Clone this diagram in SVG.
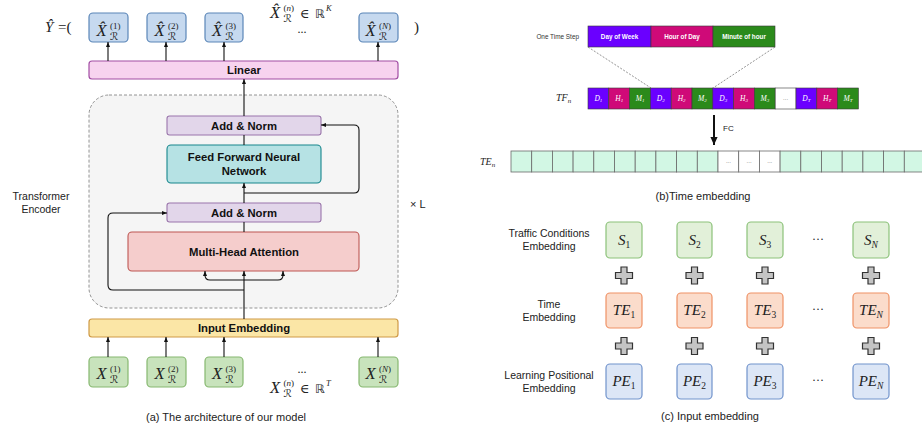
<svg xmlns="http://www.w3.org/2000/svg" width="922" height="433" viewBox="0 0 922 433">
<style>
.lbl{font-family:"Liberation Sans",Arial,sans-serif;font-weight:bold;font-size:11.3px;fill:#111;text-anchor:middle}
.cap{font-family:"Liberation Sans",Arial,sans-serif;font-size:11px;fill:#222;text-anchor:middle}
.side{font-family:"Liberation Sans",Arial,sans-serif;font-size:10.5px;fill:#222;text-anchor:middle}
.m{font-family:"Liberation Serif","DejaVu Serif",serif;font-style:italic;fill:#222}
.mu{font-family:"Liberation Serif","DejaVu Serif",serif;font-style:normal;fill:#222}
.r{font-family:"DejaVu Sans","Noto Sans",sans-serif;font-style:italic;fill:#222}
.xo{fill:#c6d9ef;stroke:#5b86b8;stroke-width:1.2}
.xi{fill:#c8e3bc;stroke:#86b870;stroke-width:1.2}
.ln{fill:none;stroke:#111;stroke-width:1.1}
.seg{font-family:"Liberation Sans",Arial,sans-serif;font-weight:bold;font-size:6.3px;fill:#fff;text-anchor:middle}
.cl{font-family:"Liberation Serif","DejaVu Serif",serif;font-style:italic;font-size:7.5px;fill:#fff;text-anchor:middle}
.pur{fill:#6a00ff;stroke:#3a3a3a;stroke-width:0.6}
.pin{fill:#cf0a78;stroke:#3a3a3a;stroke-width:0.6}
.grn{fill:#2b8a1b;stroke:#3a3a3a;stroke-width:0.6}
.te{fill:#d2f7e4;stroke:#6a6a6a;stroke-width:0.8}
.tw{fill:#fff;stroke:#6a6a6a;stroke-width:0.8}
.dots{font-family:"Liberation Sans",Arial,sans-serif;font-size:6px;fill:#666;text-anchor:middle}
.sb{fill:#e2f0d9;stroke:#8cc27a;stroke-width:1.2}
.tb{fill:#fbdccb;stroke:#ef9266;stroke-width:1.2}
.pb{fill:#dce6f6;stroke:#7193cc;stroke-width:1.2}
.cm{font-family:"Liberation Serif","DejaVu Serif",serif;font-style:italic;font-size:15px;fill:#222;text-anchor:middle}
.plus{fill:#c4c4c4;stroke:#333;stroke-width:1.2}
</style>
<defs>
<marker id="ah" viewBox="0 0 10 10" refX="10" refY="5" markerWidth="5" markerHeight="5" markerUnits="userSpaceOnUse" orient="auto"><path d="M0,1 L10,5 L0,9 z" fill="#111"/></marker>
<marker id="ahb" viewBox="0 0 10 10" refX="10" refY="5" markerWidth="8" markerHeight="8" markerUnits="userSpaceOnUse" orient="auto"><path d="M0,0.5 L10,5 L0,9.5 z" fill="#111"/></marker>
<path id="plus" d="M-3,-8.5 H3 V-3 H8.5 V3 H3 V8.5 H-3 V3 H-8.5 V-3 H-3 Z"/>
</defs>

<!-- ========== (a) ========== -->
<g id="encoder">
<rect x="89" y="95" width="309" height="213" rx="20" fill="#f5f5f5" stroke="#888" stroke-width="0.9" stroke-dasharray="3,2"/>
<text class="side" x="41" y="200" font-size="11.3">Transformer</text>
<text class="side" x="41" y="213" font-size="11.3">Encoder</text>
<text x="410" y="208" font-family="Liberation Sans,Arial,sans-serif" font-size="11" fill="#222">× L</text>
</g>

<g id="yhat">
<text class="m" x="45" y="32" font-size="15">Ŷ</text>
<text class="mu" x="58" y="32" font-size="15">=(</text>
<text class="mu" x="414" y="32" font-size="15">)</text>
</g>

<g id="out1"><rect class="xo" x="89" y="13" width="39" height="29" rx="4"/>
<text class="m" x="96.5" y="36" font-size="16.5">X̂</text><text class="mu" x="110" y="29" font-size="9">(1)</text><text class="r" x="110" y="39.5" font-size="10.5">ℛ</text></g>
<g id="out2"><rect class="xo" x="147" y="13" width="39" height="29" rx="4"/>
<text class="m" x="154.5" y="36" font-size="16.5">X̂</text><text class="mu" x="168" y="29" font-size="9">(2)</text><text class="r" x="168" y="39.5" font-size="10.5">ℛ</text></g>
<g id="out3"><rect class="xo" x="205" y="13" width="38" height="29" rx="4"/>
<text class="m" x="212" y="36" font-size="16.5">X̂</text><text class="mu" x="225.5" y="29" font-size="9">(3)</text><text class="r" x="225.5" y="39.5" font-size="10.5">ℛ</text></g>
<g id="outN"><rect class="xo" x="359" y="13" width="39" height="29" rx="4"/>
<text class="m" x="365.5" y="36" font-size="16.5">X̂</text><text class="m" x="379" y="29" font-size="9"><tspan class="mu">(</tspan>N<tspan class="mu">)</tspan></text><text class="r" x="379" y="39.5" font-size="10.5">ℛ</text></g>
<g id="outdef">
<text class="m" x="270" y="18" font-size="16.5">X̂</text><text class="mu" x="283.5" y="11" font-size="9">(<tspan class="m">n</tspan>)</text><text class="r" x="283.5" y="21.5" font-size="10.5">ℛ</text>
<text class="mu" x="300" y="18" font-size="13">∈</text><text x="315" y="18" font-family="DejaVu Sans,sans-serif" font-size="12" fill="#222">ℝ</text><text class="m" x="326" y="11" font-size="8.5">K</text>
<text class="mu" x="302" y="33" font-size="12" text-anchor="middle">...</text>
</g>

<g id="linear"><rect x="89" y="61" width="309" height="18" rx="3" fill="#f7d3ef" stroke="#a24ea4" stroke-width="1.2"/>
<text class="lbl" x="244" y="74">Linear</text></g>

<g id="addnorm2"><rect x="167" y="116" width="154" height="19" rx="2.5" fill="#e2d6ea" stroke="#9a75ab" stroke-width="1.1"/>
<text class="lbl" x="244" y="129.5">Add &amp; Norm</text></g>
<g id="ffn"><rect x="167" y="145" width="154" height="38" rx="4" fill="#b6e2e4" stroke="#16868c" stroke-width="1.1"/>
<text class="lbl" x="244" y="161">Feed Forward Neural</text><text class="lbl" x="244" y="175">Network</text></g>
<g id="addnorm1"><rect x="167" y="203" width="154" height="19" rx="2.5" fill="#e2d6ea" stroke="#9a75ab" stroke-width="1.1"/>
<text class="lbl" x="244" y="216.5">Add &amp; Norm</text></g>
<g id="mha"><rect x="128" y="232" width="231" height="39" rx="4" fill="#f5cdcc" stroke="#bd5753" stroke-width="1.1"/>
<text class="lbl" x="244" y="256" font-size="11.6">Multi-Head Attention</text></g>

<g id="inputemb"><rect x="89" y="319" width="309" height="18" rx="3" fill="#fbe6a6" stroke="#cf9a46" stroke-width="1.2"/>
<text class="lbl" x="244" y="332">Input Embedding</text></g>

<g id="in1"><rect class="xi" x="89" y="357" width="39" height="30" rx="4"/>
<text class="m" x="96.5" y="379" font-size="16.5">X</text><text class="mu" x="110" y="372" font-size="9">(1)</text><text class="r" x="110" y="382.5" font-size="10.5">ℛ</text></g>
<g id="in2"><rect class="xi" x="147" y="357" width="39" height="30" rx="4"/>
<text class="m" x="154.5" y="379" font-size="16.5">X</text><text class="mu" x="168" y="372" font-size="9">(2)</text><text class="r" x="168" y="382.5" font-size="10.5">ℛ</text></g>
<g id="in3"><rect class="xi" x="205" y="357" width="38" height="30" rx="4"/>
<text class="m" x="212" y="379" font-size="16.5">X</text><text class="mu" x="225.5" y="372" font-size="9">(3)</text><text class="r" x="225.5" y="382.5" font-size="10.5">ℛ</text></g>
<g id="inN"><rect class="xi" x="359" y="357" width="39" height="30" rx="4"/>
<text class="m" x="365.5" y="379" font-size="16.5">X</text><text class="m" x="379" y="372" font-size="9"><tspan class="mu">(</tspan>N<tspan class="mu">)</tspan></text><text class="r" x="379" y="382.5" font-size="10.5">ℛ</text></g>
<g id="indef">
<text class="mu" x="302" y="373" font-size="12" text-anchor="middle">...</text>
<text class="m" x="270" y="393" font-size="16.5">X</text><text class="mu" x="283.5" y="386" font-size="9">(<tspan class="m">n</tspan>)</text><text class="r" x="283.5" y="396.5" font-size="10.5">ℛ</text>
<text class="mu" x="300" y="393" font-size="13">∈</text><text x="315" y="393" font-family="DejaVu Sans,sans-serif" font-size="12" fill="#222">ℝ</text><text class="m" x="326" y="386" font-size="8.5">T</text>
</g>
<text class="cap" x="226" y="421" font-size="11.2">(a) The architecture of our model</text>

<g id="connectors-a">
<path class="ln" d="M108,61 V42" marker-end="url(#ah)"/>
<path class="ln" d="M166,61 V42" marker-end="url(#ah)"/>
<path class="ln" d="M224,61 V42" marker-end="url(#ah)"/>
<path class="ln" d="M378,61 V42" marker-end="url(#ah)"/>
<path class="ln" d="M108,357 V337" marker-end="url(#ah)"/>
<path class="ln" d="M166,357 V337" marker-end="url(#ah)"/>
<path class="ln" d="M224,357 V337" marker-end="url(#ah)"/>
<path class="ln" d="M378,357 V337" marker-end="url(#ah)"/>
<path class="ln" d="M244,116 V79" marker-end="url(#ah)"/>
<path class="ln" d="M244,145 V135"/>
<path class="ln" d="M244,203 V183" marker-end="url(#ah)"/>
<path class="ln" d="M244,232 V222"/>
<path class="ln" d="M244,319 V271" marker-end="url(#ah)"/>
<path class="ln" d="M244,280 H210 Q205,280 205,275 V271" marker-end="url(#ah)"/>
<path class="ln" d="M244,280 H278 Q283,280 283,275 V271" marker-end="url(#ah)"/>
<path class="ln" d="M244,290 H113 Q108,290 108,285 V218 Q108,213 113,213 H167" marker-end="url(#ah)"/>
<path class="ln" d="M244,193 H354 Q359,193 359,188 V130 Q359,125 354,125 H321" marker-end="url(#ah)"/>
</g>

<!-- ========== (b) ========== -->
<g id="onestep">
<text x="579" y="39" font-family="Liberation Sans,Arial,sans-serif" font-size="6.4" fill="#333" text-anchor="end">One Time Step</text>
<rect class="pur" x="588" y="26" width="63" height="21"/>
<rect class="pin" x="651" y="26" width="62" height="21"/>
<rect class="grn" x="713" y="26" width="62" height="21"/>
<text class="seg" x="619.5" y="38.5">Day of Week</text>
<text class="seg" x="682" y="38.5">Hour of Day</text>
<text class="seg" x="744" y="38.5">Minute of hour</text>
</g>
<g id="tfn">
<text class="m" x="556" y="101" font-size="10">TF<tspan dy="2" font-size="7">n</tspan></text>
<rect class="pur" x="588" y="88" width="20.8" height="21"/>
<rect class="pin" x="608.8" y="88" width="20.8" height="21"/>
<rect class="grn" x="629.6" y="88" width="20.8" height="21"/>
<rect class="pur" x="650.4" y="88" width="20.8" height="21"/>
<rect class="pin" x="671.2" y="88" width="20.8" height="21"/>
<rect class="grn" x="692" y="88" width="20.8" height="21"/>
<rect class="pur" x="712.8" y="88" width="20.8" height="21"/>
<rect class="pin" x="733.6" y="88" width="20.8" height="21"/>
<rect class="grn" x="754.4" y="88" width="20.8" height="21"/>
<rect x="775.2" y="88" width="20.8" height="21" fill="#fff" stroke="#3a3a3a" stroke-width="0.6"/>
<rect class="pur" x="796" y="88" width="20.8" height="21"/>
<rect class="pin" x="816.8" y="88" width="20.8" height="21"/>
<rect class="grn" x="837.6" y="88" width="20.8" height="21"/>
<text class="cl" x="598.4" y="100.5">D<tspan dy="1.5" font-size="5">1</tspan></text>
<text class="cl" x="619.2" y="100.5">H<tspan dy="1.5" font-size="5">1</tspan></text>
<text class="cl" x="640" y="100.5">M<tspan dy="1.5" font-size="5">1</tspan></text>
<text class="cl" x="660.8" y="100.5">D<tspan dy="1.5" font-size="5">2</tspan></text>
<text class="cl" x="681.6" y="100.5">H<tspan dy="1.5" font-size="5">2</tspan></text>
<text class="cl" x="702.4" y="100.5">M<tspan dy="1.5" font-size="5">2</tspan></text>
<text class="cl" x="723.2" y="100.5">D<tspan dy="1.5" font-size="5">3</tspan></text>
<text class="cl" x="744" y="100.5">H<tspan dy="1.5" font-size="5">3</tspan></text>
<text class="cl" x="764.8" y="100.5">M<tspan dy="1.5" font-size="5">3</tspan></text>
<text class="dots" x="785.6" y="100">...</text>
<text class="cl" x="806.4" y="100.5">D<tspan dy="1.5" font-size="5">T</tspan></text>
<text class="cl" x="827.2" y="100.5">H<tspan dy="1.5" font-size="5">T</tspan></text>
<text class="cl" x="848" y="100.5">M<tspan dy="1.5" font-size="5">T</tspan></text>
</g>
<g id="ten">
<text class="m" x="480" y="165" font-size="10">TE<tspan dy="2" font-size="7">n</tspan></text>
<rect class="te" x="511" y="151" width="20.7" height="21"/>
<rect class="te" x="531.7" y="151" width="20.7" height="21"/>
<rect class="te" x="552.4" y="151" width="20.7" height="21"/>
<rect class="te" x="573.1" y="151" width="20.7" height="21"/>
<rect class="te" x="593.8" y="151" width="20.7" height="21"/>
<rect class="te" x="614.5" y="151" width="20.7" height="21"/>
<rect class="te" x="635.2" y="151" width="20.7" height="21"/>
<rect class="te" x="655.9" y="151" width="20.7" height="21"/>
<rect class="te" x="676.6" y="151" width="20.7" height="21"/>
<rect class="te" x="697.3" y="151" width="20.7" height="21"/>
<rect class="tw" x="718" y="151" width="20.7" height="21"/>
<rect class="tw" x="738.7" y="151" width="20.7" height="21"/>
<rect class="tw" x="759.4" y="151" width="20.7" height="21"/>
<rect class="te" x="780.1" y="151" width="20.7" height="21"/>
<rect class="te" x="800.8" y="151" width="20.7" height="21"/>
<rect class="te" x="821.5" y="151" width="20.7" height="21"/>
<rect class="te" x="842.2" y="151" width="20.7" height="21"/>
<rect class="te" x="862.9" y="151" width="20.7" height="21"/>
<rect class="te" x="883.6" y="151" width="20.7" height="21"/>
<rect class="te" x="904.3" y="151" width="20.7" height="21"/>
<text class="dots" x="728.4" y="163">...</text>
<text class="dots" x="749.1" y="163">...</text>
<text class="dots" x="769.8" y="163">...</text>
</g>
<g id="connectors-b">
<path d="M588,47 L651,88 M775,47 L713,88" stroke="#666" stroke-width="0.7" stroke-dasharray="2,1.5" fill="none"/>
<path d="M714,115 V145" stroke="#111" stroke-width="2" fill="none" marker-end="url(#ahb)"/>
</g>
<text x="723" y="131" font-family="Liberation Sans,Arial,sans-serif" font-size="8" fill="#222">FC</text>
<text class="cap" x="703" y="200" font-size="10.6">(b)Time embedding</text>

<!-- ========== (c) ========== -->
<g id="rowlabels">
<text class="side" x="549" y="237">Traffic Conditions</text>
<text class="side" x="549" y="250">Embedding</text>
<text class="side" x="549" y="308">Time</text>
<text class="side" x="549" y="320.5">Embedding</text>
<text class="side" x="549" y="379">Learning Positional</text>
<text class="side" x="549" y="391.5">Embedding</text>
</g>
<g id="s1"><rect class="sb" x="606" y="222" width="36" height="36" rx="4"/><text class="cm" x="624" y="245">S<tspan dy="2.5" font-size="9.5" class="mu">1</tspan></text></g>
<g id="s2"><rect class="sb" x="677" y="222" width="35" height="36" rx="4"/><text class="cm" x="694.5" y="245">S<tspan dy="2.5" font-size="9.5" class="mu">2</tspan></text></g>
<g id="s3"><rect class="sb" x="747" y="222" width="36" height="36" rx="4"/><text class="cm" x="765" y="245">S<tspan dy="2.5" font-size="9.5" class="mu">3</tspan></text></g>
<g id="sN"><rect class="sb" x="853" y="222" width="36" height="36" rx="4"/><text class="cm" x="871" y="245">S<tspan dy="2.5" font-size="9.5">N</tspan></text></g>
<g id="te1"><rect class="tb" x="606" y="293" width="36" height="35" rx="4"/><text class="cm" x="624" y="315">TE<tspan dy="2.5" font-size="9.5" class="mu">1</tspan></text></g>
<g id="te2"><rect class="tb" x="677" y="293" width="35" height="35" rx="4"/><text class="cm" x="694.5" y="315">TE<tspan dy="2.5" font-size="9.5" class="mu">2</tspan></text></g>
<g id="te3"><rect class="tb" x="747" y="293" width="36" height="35" rx="4"/><text class="cm" x="765" y="315">TE<tspan dy="2.5" font-size="9.5" class="mu">3</tspan></text></g>
<g id="teN"><rect class="tb" x="853" y="293" width="36" height="35" rx="4"/><text class="cm" x="871" y="315">TE<tspan dy="2.5" font-size="9.5">N</tspan></text></g>
<g id="pe1"><rect class="pb" x="606" y="364" width="36" height="35" rx="4"/><text class="cm" x="624" y="386">PE<tspan dy="2.5" font-size="9.5" class="mu">1</tspan></text></g>
<g id="pe2"><rect class="pb" x="677" y="364" width="35" height="35" rx="4"/><text class="cm" x="694.5" y="386">PE<tspan dy="2.5" font-size="9.5" class="mu">2</tspan></text></g>
<g id="pe3"><rect class="pb" x="747" y="364" width="36" height="35" rx="4"/><text class="cm" x="765" y="386">PE<tspan dy="2.5" font-size="9.5" class="mu">3</tspan></text></g>
<g id="peN"><rect class="pb" x="853" y="364" width="36" height="35" rx="4"/><text class="cm" x="871" y="386">PE<tspan dy="2.5" font-size="9.5">N</tspan></text></g>
<g id="cdots" font-family="Liberation Serif,serif" font-size="12" fill="#222" text-anchor="middle">
<text x="818" y="243">···</text><text x="818" y="313">···</text><text x="818" y="384">···</text>
</g>
<g id="pluses">
<use href="#plus" class="plus" x="624" y="275.5"/>
<use href="#plus" class="plus" x="694.5" y="275.5"/>
<use href="#plus" class="plus" x="765" y="275.5"/>
<use href="#plus" class="plus" x="871" y="275.5"/>
<use href="#plus" class="plus" x="624" y="346"/>
<use href="#plus" class="plus" x="694.5" y="346"/>
<use href="#plus" class="plus" x="765" y="346"/>
<use href="#plus" class="plus" x="871" y="346"/>
</g>
<text class="cap" x="710" y="420" font-size="10.8">(c) Input embedding</text>
</svg>
